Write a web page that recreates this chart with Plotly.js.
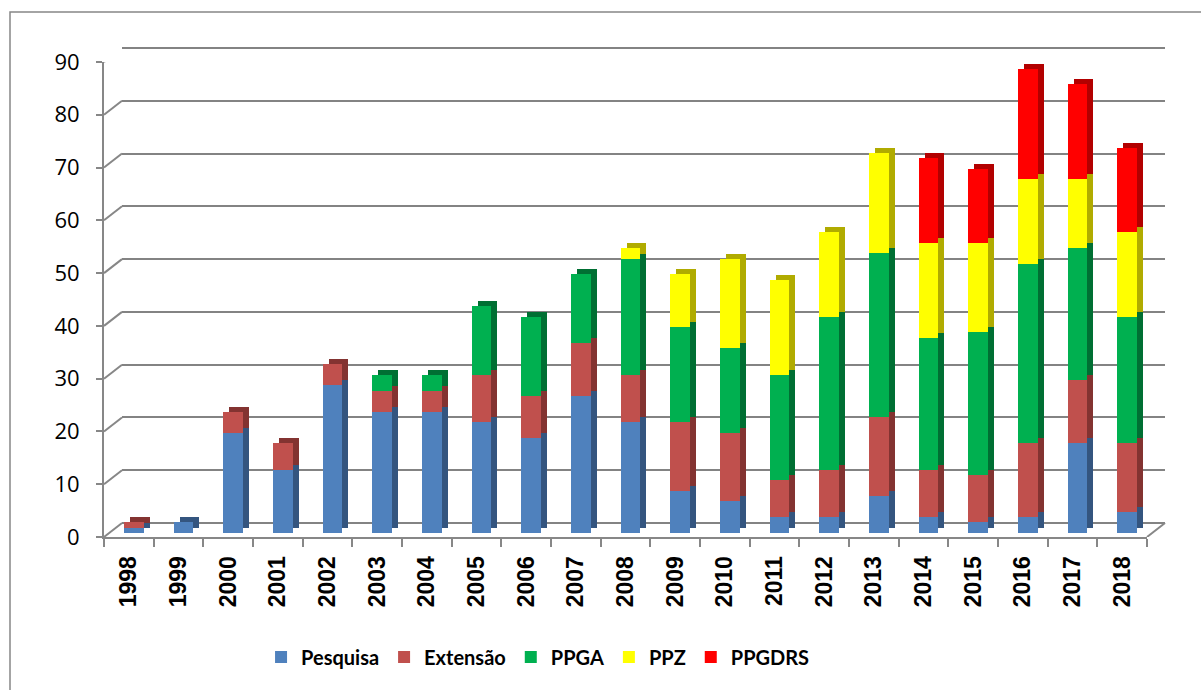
<!DOCTYPE html>
<html>
<head>
<meta charset="utf-8">
<script src="https://cdn.plot.ly/plotly-3.0.1.min.js"></script>
<style>html,body{margin:0;padding:0;background:#fff;}#chart{width:1201px;height:690px;}</style>
</head>
<body>
<div id="chart"></div>
<script>
// ---- data ----
const years = ['1998','1999','2000','2001','2002','2003','2004','2005','2006','2007','2008','2009','2010','2011','2012','2013','2014','2015','2016','2017','2018'];
const pesquisa = [1,2,19,12,28,23,23,21,18,26,21,8,6,3,3,7,3,2,3,17,4];
const extensao = [1,0,4,5,4,4,4,9,8,10,9,13,13,7,9,15,9,9,14,12,13];
const ppga     = [0,0,0,0,0,3,3,13,15,13,22,18,16,20,29,31,25,27,34,25,24];
const ppz      = [0,0,0,0,0,0,0,0,0,0,2,10,17,18,16,19,18,17,16,13,16];
const ppgdrs   = [0,0,0,0,0,0,0,0,0,0,0,0,0,0,0,0,16,14,21,18,16];
const seriesNames = ['Pesquisa','Extensão','PPGA','PPZ','PPGDRS'];
const yTicks = [0,10,20,30,40,50,60,70,80,90];

// ---- styles ----
const frontColors = ['#4f81bd','#c0504d','#00b050','#ffff00','#ff0000'];
const sideColors  = ['#34557f','#833331','#006f33','#b0ab00','#b20000'];
const seriesData = [pesquisa, extensao, ppga, ppz, ppgdrs];

const W = 1201, H = 690, PXU = 475/90;
function xd(l, r){ return [l/W, r/W]; }
function yd(p0, lo, hi){ return [(H-(p0 - lo*PXU))/H, (H-(p0 - hi*PXU))/H]; }
const grey = '#878787';

const traces = [];
// empty trace for back wall subplot
traces.push({type:'scatter', x:[], y:[], xaxis:'x', yaxis:'y', showlegend:false, hoverinfo:'skip'});
// dark side/top copies
seriesData.forEach((d,i)=>{
  traces.push({type:'bar', x:years, y:d, xaxis:'x2', yaxis:'y2', name:seriesNames[i],
    marker:{color:sideColors[i], line:{width:0}}, showlegend:false, hoverinfo:'skip'});
});
// front faces
seriesData.forEach((d,i)=>{
  traces.push({type:'bar', x:years, y:d, xaxis:'x3', yaxis:'y3', name:seriesNames[i],
    marker:{color:frontColors[i], line:{width:0}}, showlegend:true});
});
// invisible trace to carry categories on the front frame axes
traces.push({type:'scatter', mode:'markers', x:years, y:pesquisa, xaxis:'x4', yaxis:'y4',
  marker:{opacity:0}, showlegend:false, hoverinfo:'skip'});

const shapes = [];
// outer chart border
shapes.push({type:'rect', xref:'paper', yref:'paper', x0:10/W, x1:1.05, y0:-0.05, y1:(H-12)/H,
  line:{color:grey, width:1.5}, fillcolor:'rgba(0,0,0,0)'});
// diagonal connectors from front axis to back wall
yTicks.forEach(v=>{
  shapes.push({type:'line', xref:'paper', yref:'y4', ysizemode:'pixel', yanchor:v,
    x0:104/W, x1:122/W, y0:0, y1:14, line:{color:grey, width:2}});
});
shapes.push({type:'line', xref:'paper', yref:'y4', ysizemode:'pixel', yanchor:0,
  x0:1147/W, x1:1165/W, y0:0, y1:14, line:{color:grey, width:2}});

const layout = {
  width: W, height: H,
  margin:{l:0, r:0, t:0, b:0},
  paper_bgcolor:'#ffffff', plot_bgcolor:'rgba(0,0,0,0)',
  barmode:'stack', bargap:0.6,
  showlegend:true,
  hovermode:false,
  xaxis:{domain:xd(122,1165), range:[0,1], visible:false, fixedrange:true},
  yaxis:{domain:yd(523,-0.2,90.2), range:[-0.2,90.2], tick0:0, dtick:10, showgrid:true,
    gridcolor:'#838383', gridwidth:2, zeroline:false, showline:false, showticklabels:false, ticks:''},
  xaxis2:{domain:xd(115,1158), anchor:'y2', type:'category', categoryorder:'array', categoryarray:years,
    range:[-0.5,20.5], visible:false},
  yaxis2:{domain:yd(528,0,90), anchor:'x2', range:[0,90], visible:false},
  xaxis3:{domain:xd(109,1152), anchor:'y3', type:'category', categoryorder:'array', categoryarray:years,
    range:[-0.5,20.5], visible:false},
  yaxis3:{domain:yd(533,0,90), anchor:'x3', range:[0,90], visible:false},
  xaxis4:{domain:xd(104,1147), anchor:'y4', type:'category', categoryorder:'array', categoryarray:years,
    range:[-0.5,20.5], showline:true, linecolor:grey, linewidth:2, showgrid:false, zeroline:false,
    ticks:'outside', tickson:'boundaries', ticklen:8, tickwidth:2, tickcolor:grey,
    tickangle:-90, ticklabelstandoff:8,
    tickfont:{family:'Liberation Sans, Arial, sans-serif', size:23, color:'#000', weight:'bold'}},
  yaxis4:{domain:yd(537,0,90), anchor:'x4', range:[0,90], tickvals:yTicks,
    showline:true, linecolor:grey, linewidth:2, showgrid:false, zeroline:false,
    ticks:'outside', ticklen:6, tickwidth:2, tickcolor:grey, ticklabelstandoff:12,
    tickfont:{family:'Open Sans, sans-serif', size:22, color:'#000'}},
  legend:{orientation:'h', x:0.448, xanchor:'center', y:(H-657)/H, yanchor:'middle',
    traceorder:'normal', itemwidth:30, bgcolor:'rgba(0,0,0,0)',
    font:{family:'Lato, sans-serif', size:20, color:'#000', weight:'bold'}},
  shapes: shapes
};

Plotly.newPlot('chart', traces, layout, {displayModeBar:false, staticPlot:true});
</script>
</body>
</html>
